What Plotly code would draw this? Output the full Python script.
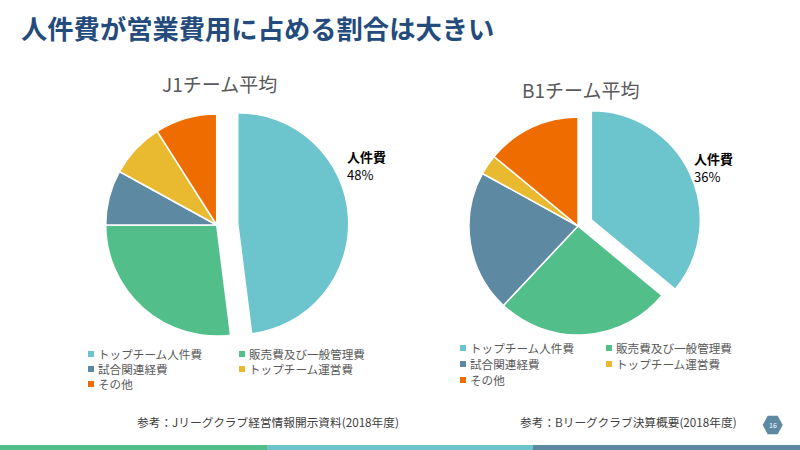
import plotly.graph_objects as go

# ---------------- data ----------------
categories = ["トップチーム人件費", "販売費及び一般管理費", "試合関連経費", "トップチーム運営費", "その他"]
j1_values = [48, 27, 8, 8, 9]
b1_values = [36, 26, 21, 3, 14]
colors = ["#6CC5CD", "#52BE8A", "#5E89A3", "#E9BA2F", "#EF6C00"]
j1_pull = [0.19, 0, 0, 0, 0]
b1_pull = [0.135, 0, 0, 0, 0]
pie_titles = ["J1チーム平均", "B1チーム平均"]
highlight_label = "人件費"
sources = ["参考：Jリーグクラブ経営情報開示資料(2018年度)", "参考：Bリーグクラブ決算概要(2018年度)"]
main_title = "人件費が営業費用に占める割合は大きい"
page_no = "16"

W, H = 800, 450
FONT = "Noto Sans CJK JP"


def px(x):
    return x / W


def py(y):
    return 1 - y / H


def domain(cx, cy, r, pull):
    half = r * (1 + max(pull))
    return dict(x=[px(cx - half), px(cx + half)], y=[py(cy + half), py(cy - half)])


fig = go.Figure()
pies = [
    (j1_values, j1_pull, domain(216.7, 225, 111, j1_pull)),
    (b1_values, b1_pull, domain(578, 226, 109, b1_pull)),
]
for vals, pull, dom in pies:
    fig.add_trace(go.Pie(
        labels=categories, values=vals, pull=pull, domain=dom,
        sort=False, direction="clockwise", rotation=0,
        marker=dict(colors=colors, line=dict(color="white", width=1.5)),
        textinfo="none", hoverinfo="label+percent", showlegend=False,
    ))

annotations = []
shapes = []

# main title
annotations.append(dict(x=px(19), y=py(28), xref="paper", yref="paper", xanchor="left", yanchor="middle",
                        text=f"<b>{main_title}</b>", showarrow=False,
                        font=dict(family=FONT, size=26.3, color="#234B7C")))

# pie titles
for (tx, ty), t in zip([(219, 84), (580, 90)], pie_titles):
    annotations.append(dict(x=px(tx), y=py(ty), xref="paper", yref="paper", xanchor="center", yanchor="middle",
                            text=t, showarrow=False, font=dict(family=FONT, size=19, color="#595959")))

# highlighted slice labels
for (lx, ly), vals in zip([(346, 156), (693, 158)], [j1_values, b1_values]):
    annotations.append(dict(x=px(lx), y=py(ly), xref="paper", yref="paper", xanchor="left", yanchor="middle",
                            text=f"<b>{highlight_label}</b>", showarrow=False, borderpad=0,
                            font=dict(family=FONT, size=13, color="#000000")))
    annotations.append(dict(x=px(lx), y=py(ly + 18), xref="paper", yref="paper", xanchor="left",
                            yanchor="middle", text=f"{vals[0]}%", showarrow=False, borderpad=0,
                            font=dict(family=FONT, size=13, color="#000000")))

# legends (manual, two columns)
legend_layouts = [
    ([88, 239], [354, 369, 384]),
    ([460, 606], [348, 364, 380]),
]
for cols, rows in legend_layouts:
    for i, (cat, col) in enumerate(zip(categories, colors)):
        mx = cols[i % 2]
        my = rows[i // 2]
        shapes.append(dict(type="rect", xref="paper", yref="paper",
                           x0=px(mx), x1=px(mx + 6), y0=py(my + 3), y1=py(my - 3),
                           fillcolor=col, line=dict(width=0)))
        annotations.append(dict(x=px(mx + 8), y=py(my), xref="paper", yref="paper", xanchor="left",
                                yanchor="middle", text=cat, showarrow=False,
                                font=dict(family=FONT, size=11.6, color="#595959")))

# sources
for (sx, sy), s in zip([(135, 421), (518, 421)], sources):
    annotations.append(dict(x=px(sx), y=py(sy), xref="paper", yref="paper", xanchor="left", yanchor="middle",
                            text=s, showarrow=False, font=dict(family=FONT, size=11.7, color="#404040")))

# page number hexagon
hx, hy, hw, hh = 772.7, 425, 10, 9.3
pts = [(hx - hw, hy), (hx - hw / 2, hy - hh), (hx + hw / 2, hy - hh), (hx + hw, hy),
       (hx + hw / 2, hy + hh), (hx - hw / 2, hy + hh)]
path = "M " + " L ".join(f"{px(a):.5f},{py(b):.5f}" for a, b in pts) + " Z"
shapes.append(dict(type="path", xref="paper", yref="paper", path=path, fillcolor="#5E89A3", line=dict(width=0)))
annotations.append(dict(x=px(hx), y=py(hy), xref="paper", yref="paper", xanchor="center", yanchor="middle",
                        text=page_no, showarrow=False, font=dict(family=FONT, size=7, color="white")))

# bottom bar
for (x0, x1), c in zip([(0, 267), (267, 533), (533, 800)], ["#52BE8A", "#6CC5CD", "#5E89A3"]):
    shapes.append(dict(type="rect", xref="paper", yref="paper", x0=px(x0), x1=px(x1), y0=0, y1=py(445),
                       fillcolor=c, line=dict(width=0)))

fig.update_layout(
    width=W, height=H, margin=dict(l=0, r=0, t=0, b=0),
    paper_bgcolor="white", plot_bgcolor="white",
    annotations=annotations, shapes=shapes, showlegend=False,
    font=dict(family=FONT),
)
fig.write_html("out.html", config={"displayModeBar": False},
               post_script="document.body.style.margin='0';")
